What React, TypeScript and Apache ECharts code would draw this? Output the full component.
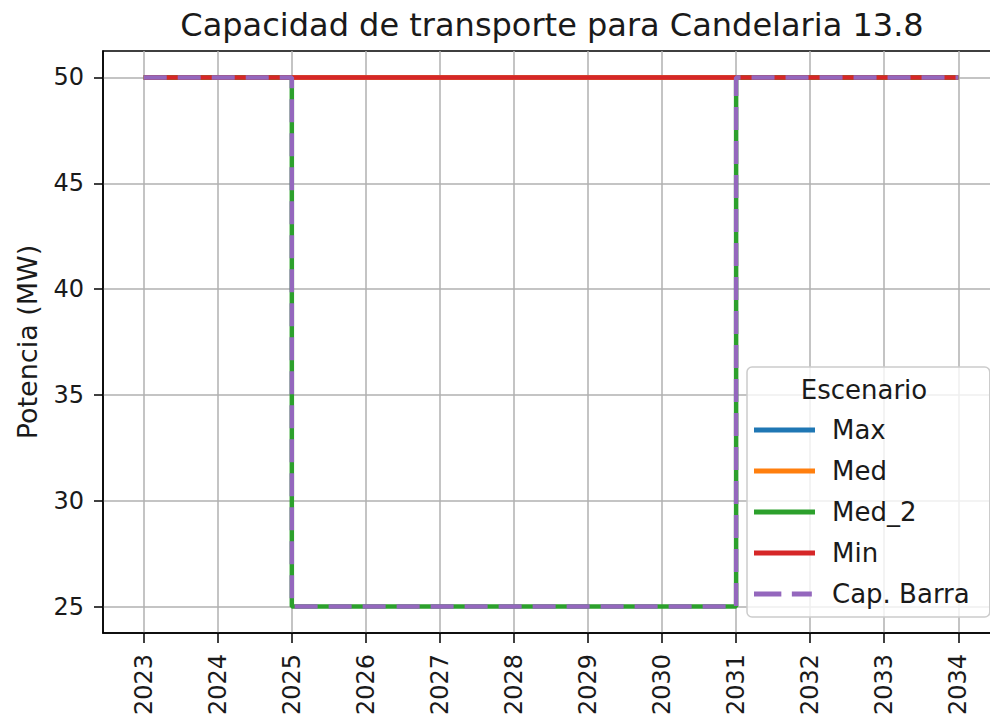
import React, { useEffect, useRef } from "react";
import * as echarts from "echarts";

const years = [2023, 2024, 2025, 2026, 2027, 2028, 2029, 2030, 2031, 2032, 2033, 2034];
const maxVals = [50, 50, 50, 50, 50, 50, 50, 50, 50, 50, 50, 50];
const medVals = [50, 50, 50, 50, 50, 50, 50, 50, 50, 50, 50, 50];
const med2Vals = [50, 50, 25, 25, 25, 25, 25, 25, 50, 50, 50, 50];
const minVals = [50, 50, 50, 50, 50, 50, 50, 50, 50, 50, 50, 50];
const capBarraVals = [50, 50, 25, 25, 25, 25, 25, 25, 50, 50, 50, 50];
const yTicks = [25, 30, 35, 40, 45, 50];

const seriesDefs = [
  { name: "Max", values: maxVals, color: "#1f77b4", dashed: false },
  { name: "Med", values: medVals, color: "#ff7f0e", dashed: false },
  { name: "Med_2", values: med2Vals, color: "#2ca02c", dashed: false },
  { name: "Min", values: minVals, color: "#d62728", dashed: false },
  { name: "Cap. Barra", values: capBarraVals, color: "#9467bd", dashed: true },
];

const FONT = "DejaVu Sans";
const SOLID_ICON = "path://M0,0H61V5H0Z";
const DASH_ICON = "path://M3,0H29V5H3Z M39,0H58V5H39Z M61,0H61.01V5H61Z";

export default function App() {
  const ref = useRef<HTMLDivElement>(null);
  useEffect(() => {
    if (!ref.current) return;
    const chart = echarts.init(ref.current, undefined, { renderer: "svg" });
    const option: any = {
      animation: false,
      backgroundColor: "#ffffff",
      textStyle: { fontFamily: FONT, color: "#000" },
      title: {
        text: "Capacidad de transporte para Candelaria 13.8",
        left: 547,
        top: 4,
        textAlign: "center",
        textStyle: { fontFamily: FONT, fontSize: 32, fontWeight: "normal", color: "#1a1a1a" },
      },
      grid: {
        left: 103,
        right: -9,
        top: 51,
        bottom: 86,
        show: true,
        borderColor: "#000",
        borderWidth: 1.5,
        backgroundColor: "transparent",
        outerBoundsMode: "none",
        containLabel: false,
      },
      xAxis: {
        type: "value",
        min: 2022.45,
        max: 2034.55,
        axisLine: { show: true, lineStyle: { color: "#000", width: 1.5 } },
        axisTick: { show: true, length: 10, customValues: years, lineStyle: { color: "#000", width: 1.5 } },
        axisLabel: {
          customValues: years,
          rotate: 90,
          fontFamily: FONT,
          fontSize: 24,
          color: "#1a1a1a",
          margin: 21,
          formatter: (v: number) => String(Math.round(v)),
        },
        splitLine: { show: true, customValues: years, lineStyle: { color: "#b0b0b0", width: 1.5 } },
      },
      yAxis: {
        type: "value",
        min: 23.75,
        max: 51.25,
        name: "Potencia (MW)",
        nameLocation: "middle",
        nameRotate: 90,
        nameGap: 62,
        nameTextStyle: { fontFamily: FONT, fontSize: 27, color: "#1a1a1a" },
        axisLine: { show: true, lineStyle: { color: "#000", width: 1.5 } },
        axisTick: { show: true, length: 9, customValues: yTicks, lineStyle: { color: "#000", width: 1.5 } },
        axisLabel: {
          customValues: yTicks,
          fontFamily: FONT,
          fontSize: 24,
          color: "#1a1a1a",
          margin: 19,
        },
        splitLine: { show: true, customValues: yTicks, lineStyle: { color: "#b0b0b0", width: 1.5 } },
      },
      legend: {
        orient: "vertical",
        left: 747,
        top: 367,
        width: 250,
        padding: [48, 20, 8, 7],
        itemWidth: 61,
        itemHeight: 5,
        itemGap: 11,
        symbolKeepAspect: false,
        backgroundColor: "rgba(255,255,255,0.8)",
        borderColor: "#cccccc",
        borderWidth: 1.5,
        borderRadius: 5,
        textStyle: { fontFamily: FONT, fontSize: 26, color: "#1a1a1a", lineHeight: 30, padding: [0, 0, 0, 12] },
        data: seriesDefs.map((s) => ({ name: s.name, icon: s.dashed ? DASH_ICON : SOLID_ICON })),
      },
      graphic: [
        {
          type: "text",
          x: 864,
          y: 390,
          z: 100,
          style: {
            text: "Escenario",
            fontFamily: FONT,
            fontSize: 26,
            fill: "#1a1a1a",
            align: "center",
            verticalAlign: "middle",
          },
        },
      ],
      series: seriesDefs.map((s, i) => ({
        name: s.name,
        type: "line",
        step: "end",
        data: years.map((y, j) => [y, s.values[j]]),
        showSymbol: false,
        symbol: "none",
        z: 2 + i,
        color: s.color,
        itemStyle: { color: s.color },
        lineStyle: {
          color: s.color,
          width: 4.5,
          type: s.dashed ? [23, 11] : "solid",
          cap: "butt",
        },
      })),
    };
    chart.setOption(option);
    return () => chart.dispose();
  }, []);
  return (
    <div
      ref={ref}
      style={{ position: "fixed", left: 0, top: 0, width: 990, height: 719 }}
    />
  );
}
